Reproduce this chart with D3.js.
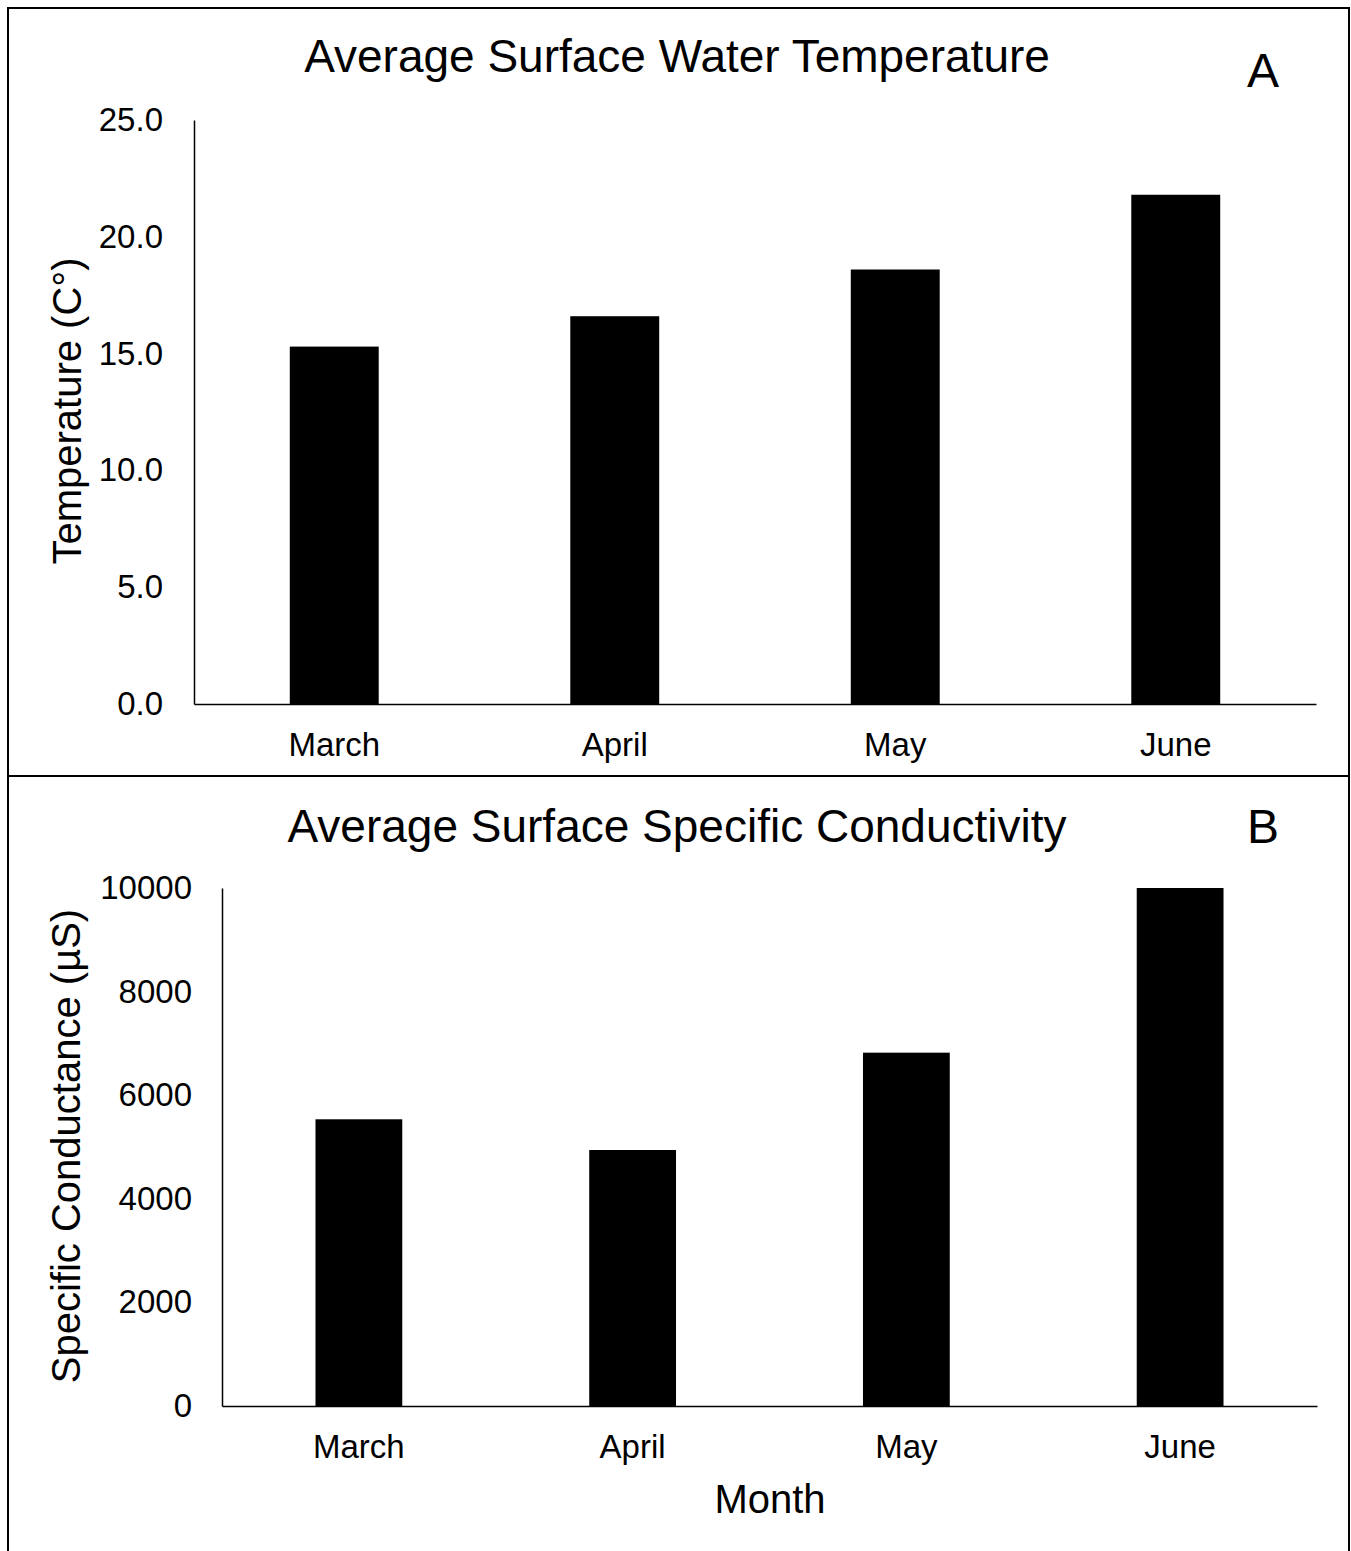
<!DOCTYPE html>
<html>
<head>
<meta charset="utf-8">
<script src="https://cdn.jsdelivr.net/npm/d3@7"></script>
<style>
  body { margin: 0; background: #fff; }
  svg text { font-family: "Liberation Sans", Arial, sans-serif; fill: #000; }
  .axis path { stroke: #000; stroke-width: 1.5; }
</style>
</head>
<body>
<div id="container"></div>
<script>
// ---- data ----
var months = ["March", "April", "May", "June"];
var tempValues = [15.3, 16.6, 18.6, 21.8];
var condValues = [5535, 4942, 6821, 10000];
var tempTicks = [0, 5, 10, 15, 20, 25];
var condTicks = [0, 2000, 4000, 6000, 8000, 10000];

var width = 1351, height = 1551;

var svg = d3.select("div#container").append("svg")
    .attr("width", width)
    .attr("height", height);

// outer frame and the divider between the two panels
svg.append("rect")
    .attr("x", 8).attr("y", 8)
    .attr("width", 1341).attr("height", 1560)
    .attr("fill", "none")
    .attr("stroke", "#000")
    .attr("stroke-width", 2);

svg.append("line")
    .attr("x1", 8).attr("x2", 1349)
    .attr("y1", 776).attr("y2", 776)
    .attr("stroke", "#000")
    .attr("stroke-width", 2);

function drawPanel(opts) {
    var x = d3.scaleBand()
        .domain(months)
        .range([opts.left, opts.right])
        .paddingInner(0.683)
        .paddingOuter(0.3415);

    var y = d3.scaleLinear()
        .domain([0, d3.max(opts.ticks)])
        .range([opts.bottom, opts.top]);

    // bars
    svg.append("g")
        .selectAll("rect")
        .data(opts.values)
        .enter()
        .append("rect")
        .attr("x", function(d, i) { return x(months[i]); })
        .attr("width", x.bandwidth())
        .attr("y", function(d) { return y(d); })
        .attr("height", function(d) { return opts.bottom - y(d); })
        .attr("fill", "#000");

    // y axis
    var yAxis = svg.append("g")
        .attr("class", "axis")
        .attr("transform", "translate(" + opts.left + ",0)")
        .call(d3.axisLeft(y)
            .tickValues(opts.ticks)
            .tickFormat(opts.format)
            .tickSize(0)
            .tickPadding(opts.tickPad));
    yAxis.selectAll("text").style("font-size", "33px");

    // x axis
    var xAxis = svg.append("g")
        .attr("class", "axis")
        .attr("transform", "translate(0," + opts.bottom + ")")
        .call(d3.axisBottom(x).tickSize(0).tickPadding(opts.xPad));
    xAxis.selectAll("text").style("font-size", "33px");

    // title
    svg.append("text")
        .attr("x", 677)
        .attr("y", opts.titleY)
        .attr("text-anchor", "middle")
        .style("font-size", "46px")
        .text(opts.title);

    // panel letter
    svg.append("text")
        .attr("x", 1263)
        .attr("y", opts.letterY)
        .attr("text-anchor", "middle")
        .style("font-size", "48px")
        .text(opts.letter);

    // y label
    svg.append("text")
        .attr("transform", "translate(" + opts.labelX + "," + opts.labelY + ") rotate(-90)")
        .attr("text-anchor", "middle")
        .style("font-size", "40px")
        .text(opts.ylabel);
}

drawPanel({
    values: tempValues, ticks: tempTicks, format: d3.format(".1f"),
    left: 194, right: 1316, top: 120, bottom: 704,
    tickPad: 31, xPad: 29,
    title: "Average Surface Water Temperature", titleY: 72,
    letter: "A", letterY: 87,
    ylabel: "Temperature (C\u00b0)", labelX: 81, labelY: 411
});

drawPanel({
    values: condValues, ticks: condTicks, format: d3.format("d"),
    left: 222, right: 1317, top: 888, bottom: 1406,
    tickPad: 30, xPad: 29,
    title: "Average Surface Specific Conductivity", titleY: 842,
    letter: "B", letterY: 843,
    ylabel: "Specific Conductance (\u00b5S)", labelX: 80, labelY: 1146
});

// shared x label
svg.append("text")
    .attr("x", 770)
    .attr("y", 1513)
    .attr("text-anchor", "middle")
    .style("font-size", "40px")
    .text("Month");
</script>
</body>
</html>
